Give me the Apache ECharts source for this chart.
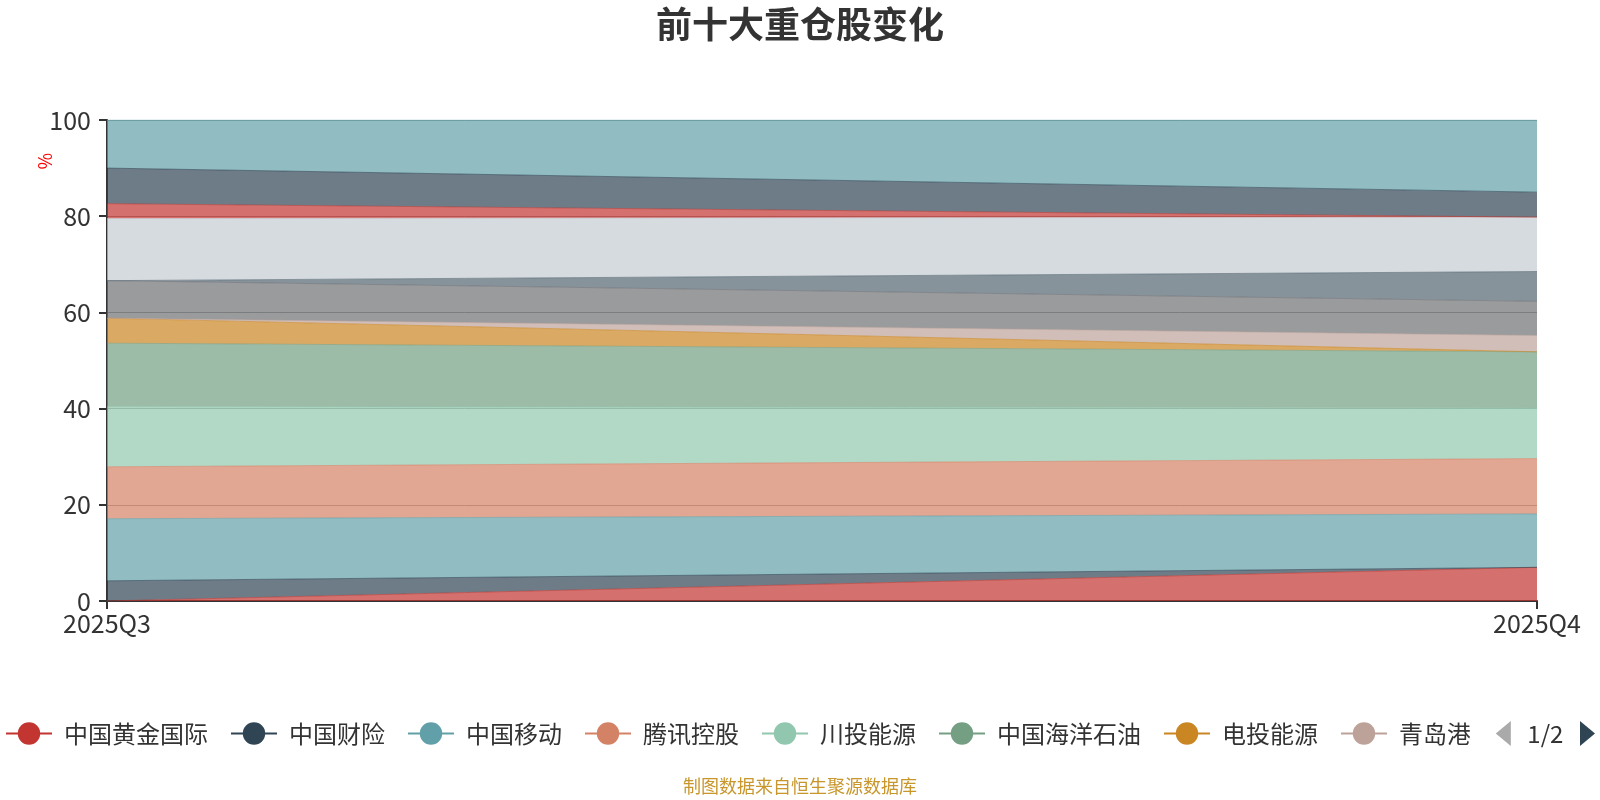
<!DOCTYPE html>
<html>
<head>
<meta charset="utf-8">
<script src="https://cdn.jsdelivr.net/npm/echarts@6/dist/echarts.min.js"></script>
<style>
html,body{margin:0;padding:0;background:#fff;}
#chart{width:1600px;height:800px;}
</style>
</head>
<body>
<div id="chart"></div>
<script>
const categories = ['2025Q3', '2025Q4'];
const seriesNames = ['中国黄金国际', '中国财险', '中国移动', '腾讯控股', '川投能源', '中国海洋石油', '电投能源', '青岛港', '中国神华', '中远海控', '长江电力', '中国石油股份', '兖矿能源', '招商银行'];
const s1 = [0, 7.0];
const s2 = [4.2, 0];
const s3 = [12.9, 11.1];
const s4 = [10.8, 11.5];
const s5 = [12.5, 10.5];
const s6 = [13.2, 11.7];
const s7 = [5.2, 0];
const s8 = [0, 3.4];
const s9 = [7.8, 7.1];
const s10 = [0, 6.2];
const s11 = [12.9, 11.3];
const s12 = [3.1, 0];
const s13 = [7.4, 5.2];
const s14 = [10.0, 15.0];
const seriesValues = [s1, s2, s3, s4, s5, s6, s7, s8, s9, s10, s11, s12, s13, s14];
const yTicks = [0, 20, 40, 60, 80, 100];

const palette = ['#c23531','#2f4554','#61a0a8','#d48265','#91c7ae','#749f83','#ca8622','#bda29a','#6e7074','#546570','#c4ccd3'];
const font = '"Noto Sans CJK SC", "Noto Sans", sans-serif';

const chart = echarts.init(document.getElementById('chart'));
chart.setOption({
  color: palette,
  animation: false,
  textStyle: { fontFamily: font },
  title: {
    text: '前十大重仓股变化',
    left: 'center',
    top: 1,
    textStyle: { fontSize: 36, fontWeight: 'bold', color: '#333', fontFamily: font }
  },
  grid: { left: 107, right: 63, top: 120, bottom: 199 },
  legend: {
    type: 'scroll',
    left: 0,
    right: 33,
    top: 716,
    itemWidth: 46,
    itemHeight: 28,
    itemGap: 22,
    lineStyle: { width: 2, opacity: 1 },
    textStyle: { fontSize: 24, color: '#333', fontFamily: font, padding: [0, 0, 0, 7] },
    pageIconColor: '#2f4554',
    pageIconInactiveColor: '#aaa',
    pageIconSize: [15, 28],
    pageButtonItemGap: 6,
    pageButtonGap: 26,
    pageTextStyle: { fontSize: 24, color: '#333', fontFamily: font },
    data: seriesNames
  },
  xAxis: {
    type: 'category',
    boundaryGap: false,
    data: categories,
    axisLine: { lineStyle: { color: '#333', width: 2 } },
    axisTick: { show: true, length: 8, lineStyle: { color: '#333', width: 2 } },
    axisLabel: { fontSize: 25, color: '#333', margin: 10, fontFamily: font }
  },
  yAxis: {
    type: 'value',
    min: yTicks[0],
    max: yTicks[yTicks.length - 1],
    interval: 20,
    axisLine: { show: true, lineStyle: { color: '#333', width: 2 } },
    axisTick: { show: true, length: 8, lineStyle: { color: '#333', width: 2 } },
    axisLabel: { fontSize: 25, color: '#333', margin: 16, fontFamily: font },
    splitLine: { show: true, lineStyle: { color: '#999' } }
  },
  graphic: [{
    type: 'text',
    left: 36,
    top: 153,
    rotation: Math.PI / 2,
    style: { text: '%', fill: '#ff0000', fontSize: 18, fontFamily: font }
  }, {
    type: 'text',
    left: 'center',
    top: 777,
    style: { text: '制图数据来自恒生聚源数据库', fill: '#c8962b', fontSize: 18, fontFamily: font }
  }],
  series: seriesNames.map((name, i) => ({
    name: name,
    type: 'line',
    stack: 'total',
    data: seriesValues[i],
    symbol: 'circle',
    symbolSize: 8,
    showSymbol: false,
    lineStyle: { width: 1, opacity: 0.6 },
    areaStyle: { opacity: 0.7 }
  }))
});
</script>
</body>
</html>
